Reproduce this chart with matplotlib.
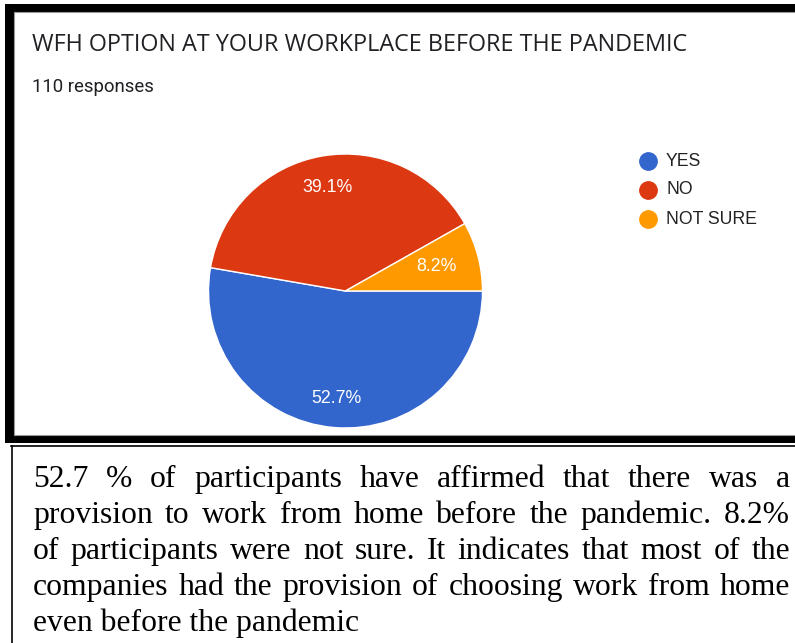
import matplotlib
matplotlib.use("Agg")
import matplotlib.pyplot as plt
import numpy as np
from matplotlib.patches import Rectangle

W, H = 795, 643
DPI = 100

# survey data
categories = ["YES", "NO", "NOT SURE"]
counts = [58, 43, 9]
colors = ["#3366cc", "#dc3912", "#ff9900"]
label_dist = [0.79, 0.77, 0.69]

title = "WFH OPTION AT YOUR WORKPLACE BEFORE THE PANDEMIC"
subtitle = "110 responses"
caption_lines = [
    "52.7 % of participants have affirmed that there was a",
    "provision to work from home before the pandemic. 8.2%",
    "of participants were not sure. It indicates that most of the",
    "companies had the provision of choosing work from home",
    "even before the pandemic",
]


def fx(x):
    return x / W


def fy(y):
    return 1 - y / H


fig = plt.figure(figsize=(W / DPI, H / DPI), dpi=DPI)
fig.patch.set_facecolor("white")

# thick frame around the chart panel
fig.patches.append(Rectangle((fx(5), fy(443)), fx(800 - 5), (443 - 4) / H,
                             transform=fig.transFigure, facecolor="black",
                             edgecolor="none", zorder=-3))
fig.patches.append(Rectangle((fx(14), fy(435)), fx(800 - 14), (435 - 12) / H,
                             transform=fig.transFigure, facecolor="white",
                             edgecolor="#9a9a9a", linewidth=0.8, zorder=-2))

# caption box border
fig.add_artist(plt.Line2D([fx(11), fx(800)], [fy(445.5), fy(445.5)],
                          transform=fig.transFigure, color="black", lw=1.2))
fig.add_artist(plt.Line2D([fx(11.5), fx(11.5)], [fy(445.5), fy(650)],
                          transform=fig.transFigure, color="black", lw=1.2))

fig.text(fx(32), fy(45), title, fontsize=16.8, family="Open Sans",
         color="#202124", va="center", ha="left")
fig.text(fx(32), fy(87), subtitle, fontsize=13.4, family="Roboto",
         color="#202124", va="center", ha="left")

# pie, clockwise from 3 o'clock
cx, cy, R = 345.5, 291, 137
ax = fig.add_axes([fx(cx - R), fy(cy + R), 2 * R / W, 2 * R / H])
wedges, texts, autotexts = ax.pie(
    counts, colors=colors, startangle=0, counterclock=False,
    autopct="%1.1f%%", pctdistance=0.78,
    wedgeprops=dict(edgecolor="white", linewidth=1.0),
    textprops=dict(color="white", fontsize=12.8, family="Liberation Sans"))
for w, t, d in zip(wedges, autotexts, label_dist):
    ang = np.deg2rad((w.theta1 + w.theta2) / 2)
    t.set_position((d * np.cos(ang), d * np.sin(ang)))
ax.set_xlim(-1, 1)
ax.set_ylim(-1, 1)
ax.set_aspect("equal")
ax.axis("off")

# legend
leg_y = [161, 190, 219]
for cat, col, y in zip(categories, colors, leg_y):
    fig.add_artist(plt.Line2D([fx(648)], [fy(y)], marker="o", markersize=12.5,
                              color=col, transform=fig.transFigure))
    fig.text(fx(666), fy(y), cat, fontsize=12.7, family="Liberation Sans",
             color="#222222", va="center", ha="left")

# justified caption text
renderer = fig.canvas.get_renderer()
x0, x1 = 33, 790
base0, step = 487, 36
fs = 22.8
for i, line in enumerate(caption_lines):
    yb = fy(base0 + i * step)
    words = line.split(" ")
    if i == len(caption_lines) - 1:
        fig.text(fx(x0), yb, line, fontsize=fs, family="Liberation Serif",
                 va="baseline", ha="left", color="black")
        continue
    arts = [fig.text(0, yb, w, fontsize=fs, family="Liberation Serif",
                     va="baseline", ha="left", color="black") for w in words]
    widths = [a.get_window_extent(renderer).width for a in arts]
    gap = (x1 - x0 - sum(widths)) / (len(words) - 1)
    x = x0
    for a, wd in zip(arts, widths):
        a.set_x(fx(x))
        x += wd + gap

fig.savefig("out.png", dpi=DPI, facecolor="white")
